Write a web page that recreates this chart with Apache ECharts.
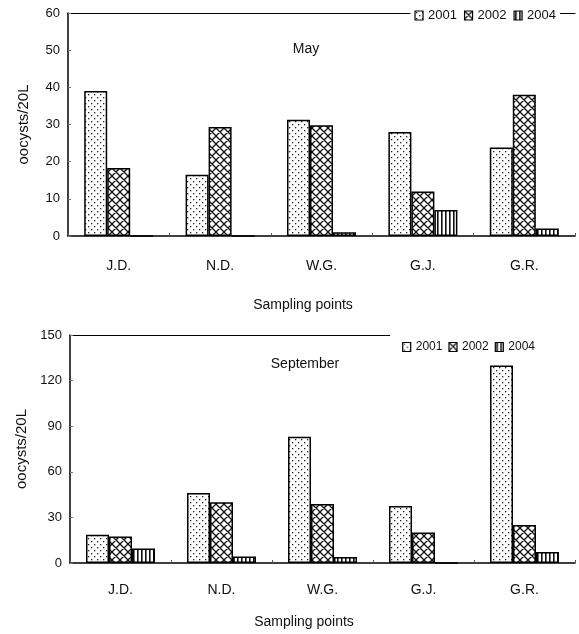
<!DOCTYPE html>
<html>
<head>
<meta charset="utf-8">
<script src="https://cdn.jsdelivr.net/npm/echarts@6/dist/echarts.min.js"></script>
<style>
html,body{margin:0;padding:0;background:#fff;}
#chart{width:579px;height:634px;}
</style>
</head>
<body>
<div id="chart"></div>
<script>
// ---- data ----
const categories = ['J.D.', 'N.D.', 'W.G.', 'G.J.', 'G.R.'];
const years = ['2001', '2002', '2004'];
const may2001 = [39, 16.5, 31.3, 28, 23.8];
const may2002 = [18.3, 29.3, 29.8, 12, 38];
const may2004 = [0, 0, 1, 7, 2];
const sep2001 = [18.6, 46, 83, 37.5, 130];
const sep2002 = [17.5, 40, 38.8, 20, 25];
const sep2004 = [9.6, 4.2, 4, 0, 7.2];
const mayTicks = [0, 10, 20, 30, 40, 50, 60];
const sepTicks = [0, 30, 60, 90, 120, 150];

// ---- patterns ----
function makeCanvas(w, h, draw) {
  const c = document.createElement('canvas');
  c.width = w; c.height = h;
  const ctx = c.getContext('2d');
  ctx.fillStyle = '#fff';
  ctx.fillRect(0, 0, w, h);
  draw(ctx);
  return c;
}
const dotCanvas = makeCanvas(6, 6, ctx => {
  ctx.fillStyle = '#222';
  ctx.fillRect(1, 1, 1.3, 1.3);
  ctx.fillRect(4, 4, 1.3, 1.3);
});
const crossCanvas = makeCanvas(8, 8, ctx => {
  ctx.strokeStyle = '#111';
  ctx.lineWidth = 1.3;
  ctx.beginPath();
  for (let o = -8; o <= 8; o += 8) {
    ctx.moveTo(o, 0); ctx.lineTo(o + 8, 8);
    ctx.moveTo(o + 8, 0); ctx.lineTo(o, 8);
  }
  ctx.stroke();
});
const vertCanvas = makeCanvas(4, 4, ctx => {
  ctx.fillStyle = '#111';
  ctx.fillRect(1, 0, 1.6, 4);
});
const fills = {
  '2001': { image: dotCanvas, repeat: 'repeat' },
  '2002': { image: crossCanvas, repeat: 'repeat' },
  '2004': { image: vertCanvas, repeat: 'repeat' }
};

const FONT = 'Liberation Sans, Arial, sans-serif';

function barSeries(name, data, idx) {
  return {
    type: 'bar',
    name: name,
    data: data,
    xAxisIndex: idx,
    yAxisIndex: idx,
    barWidth: 23,
    barGap: '0%',
    itemStyle: { color: fills[name], borderColor: '#000', borderWidth: 1.5 },
    emphasis: { disabled: true },
    animation: false
  };
}

function catAxis(gridIndex, labelMargin, nameGap) {
  return {
    type: 'category',
    gridIndex: gridIndex,
    data: categories,
    name: 'Sampling points',
    nameLocation: 'middle',
    nameGap: nameGap,
    nameTextStyle: { fontFamily: FONT, fontSize: 14, color: '#111', padding: [0, 37, 0, 0] },
    axisLine: { lineStyle: { color: '#000', width: 1.5 } },
    axisTick: { show: true, inside: true, length: 3, lineStyle: { color: '#555' } },
    axisLabel: { fontFamily: FONT, fontSize: 14, color: '#111', margin: labelMargin }
  };
}
function topAxis(gridIndex) {
  return {
    type: 'category',
    gridIndex: gridIndex,
    position: 'top',
    data: categories,
    axisLine: { show: true, lineStyle: { color: '#000', width: 1.2 } },
    axisTick: { show: false },
    axisLabel: { show: false }
  };
}
function valAxis(gridIndex, ticks) {
  return {
    type: 'value',
    gridIndex: gridIndex,
    min: ticks[0],
    max: ticks[ticks.length - 1],
    interval: ticks[1] - ticks[0],
    name: 'oocysts/20L',
    nameLocation: 'middle',
    nameGap: 37,
    nameTextStyle: { fontFamily: FONT, fontSize: 15, color: '#111' },
    axisLine: { show: true, lineStyle: { color: '#000', width: 1.5 } },
    axisTick: { show: true, inside: true, length: 3, lineStyle: { color: '#777' } },
    splitLine: { show: false },
    axisLabel: { fontFamily: FONT, fontSize: 13, color: '#111', margin: 8 }
  };
}
function legendAt(top, right, padding, fontSize, gap) {
  return {
    data: years,
    top: top,
    right: right,
    orient: 'horizontal',
    icon: 'rect',
    itemWidth: 8,
    itemHeight: 9,
    itemGap: gap,
    padding: padding,
    backgroundColor: '#fff',
    selectedMode: false,
    itemStyle: { borderColor: '#000', borderWidth: 1.2 },
    textStyle: { fontFamily: FONT, fontSize: fontSize, color: '#111' }
  };
}

const chart = echarts.init(document.getElementById('chart'), null, { renderer: 'canvas' });
chart.setOption({
  animation: false,
  backgroundColor: '#fff',
  title: [
    { text: 'May', left: 301, top: 37, textAlign: 'center',
      textStyle: { fontFamily: FONT, fontSize: 14, fontWeight: 'normal', color: '#111' } },
    { text: 'September', left: 300, top: 352, textAlign: 'center',
      textStyle: { fontFamily: FONT, fontSize: 14, fontWeight: 'normal', color: '#111' } }
  ],
  legend: [
    legendAt(7, 19, [2, 4, 2, 4], 13, 7),
    legendAt(329, 0, [12, 44, 3, 12], 12, 6)
  ],
  grid: [
    { left: 68, right: 4, top: 13, bottom: 398 },
    { left: 70, right: 4, top: 335, bottom: 71 }
  ],
  xAxis: [catAxis(0, 23, 62), catAxis(1, 20, 52), topAxis(0), topAxis(1)],
  yAxis: [valAxis(0, mayTicks), valAxis(1, sepTicks)],
  series: [
    barSeries('2001', may2001, 0),
    barSeries('2002', may2002, 0),
    barSeries('2004', may2004, 0),
    barSeries('2001', sep2001, 1),
    barSeries('2002', sep2002, 1),
    barSeries('2004', sep2004, 1)
  ]
});
</script>
</body>
</html>
